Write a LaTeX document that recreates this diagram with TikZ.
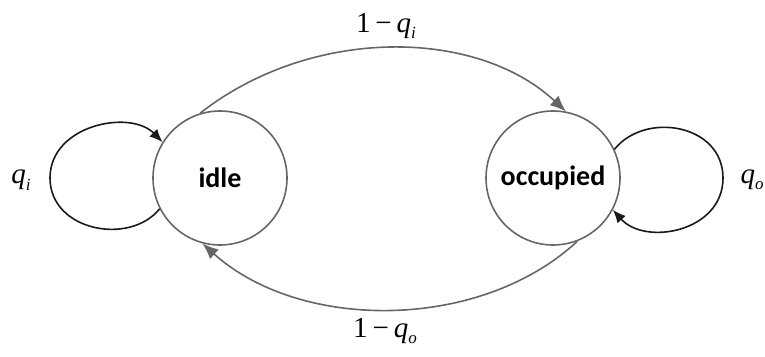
\documentclass[tikz,border=0pt]{standalone}
\usepackage{fontspec}
\setmainfont{Liberation Serif}
\newfontfamily\nodefont{Carlito}
\usetikzlibrary{arrows.meta}
\definecolor{circgray}{HTML}{666666}
\definecolor{loopblack}{HTML}{1A1A1A}
\newcommand{\plabel}[2]{{\fontsize{29}{31}\selectfont #1\textit{q}\raisebox{-0.22em}{\fontsize{17}{18}\selectfont\textit{#2}}}}
\begin{document}
\begin{tikzpicture}[x=1pt,y=1pt,
  state/.style={circle,draw=circgray,line width=1.6pt,minimum size=134pt,inner sep=0pt,
    font=\nodefont\bfseries\fontsize{28}{30}\selectfont},
  arc/.style={draw=circgray,line width=1.6pt,-{Latex[length=16pt,width=13pt]}},
  selfloop/.style={draw=loopblack,line width=1.6pt,-{Latex[length=13pt,width=11pt]}},
  lbl/.style={inner sep=0pt}]
\useasboundingbox (0,0) rectangle (765,356);
\node[state] (idle) at (220,178) {idle};
\node[state] (occ) at (553,178) {occupied};
% transitions
\draw[arc] (idle.107) .. controls (310,329) and (475,329) .. (occ.79);
\draw[arc] (occ.291) .. controls (480,24.5) and (300,24.5) .. (idle.255);
% self loops
\draw[selfloop] (idle.207) .. controls (130,110) and (50,125) .. (50,178)
  .. controls (50,231) and (130,247) .. (idle.148);
\draw[selfloop] (occ.25) .. controls (645,245) and (723,232) .. (723,178)
  .. controls (723,124) and (645,110) .. (occ.332);
% labels
\node[lbl] (lqi) at (386,330) {\plabel{1\,−\,}{i}};
\node[lbl] (lqo) at (385,25) {\plabel{1\,−\,}{o}};
\node[lbl] (qi) at (21,176) {\plabel{}{i}};
\node[lbl] (qo) at (752,176) {\plabel{}{o}};
\end{tikzpicture}
\end{document}
